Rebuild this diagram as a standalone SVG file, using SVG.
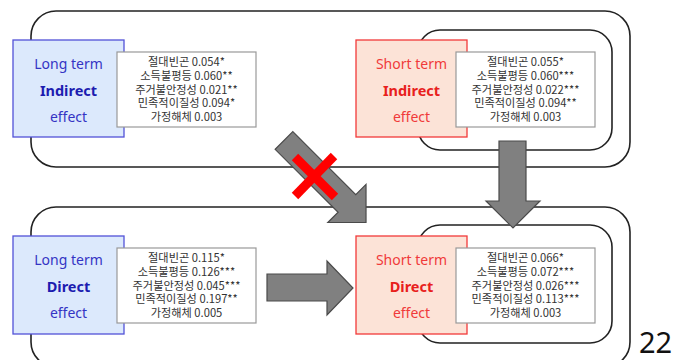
<svg xmlns="http://www.w3.org/2000/svg" width="679" height="360" viewBox="0 0 679 360">
<style>
.frame{fill:none;stroke:#222;stroke-width:1.6}
.lbox{fill:#dce9fc;stroke:#5252d8;stroke-width:1.3}
.sbox{fill:#fce3d7;stroke:#f23a3a;stroke-width:1.3}
.dbox{fill:#fff;stroke:#999;stroke-width:1.2}
.dt{font-family:"Noto Sans CJK KR","Noto Sans",sans-serif;font-size:11.2px;fill:#333;text-anchor:middle}
.lt{font-family:"Noto Sans","Noto Sans CJK KR",sans-serif;font-size:14px;text-anchor:middle}
.blue{fill:#3434c4}
.blueb{fill:#1c1cb0;font-weight:bold;font-size:14.5px}
.red{fill:#f03a3a}
.redb{fill:#e8201c;font-weight:bold;font-size:14.5px}
.arr{fill:#808080;stroke:#4a4a4a;stroke-width:1.2;stroke-linejoin:miter}
</style>
<rect width="679" height="360" fill="#fff"/>
<g id="frames">
<rect class="frame" x="31" y="11" width="599" height="156" rx="25"/>
<rect class="frame" x="418" y="30" width="194" height="120" rx="22"/>
<rect class="frame" x="31" y="207" width="599" height="160" rx="25"/>
<rect class="frame" x="418" y="225" width="194" height="118" rx="22"/>
</g>
<g id="long-indirect">
<rect class="lbox" x="13" y="40" width="111" height="97"/>
<text class="lt blue" x="68.5" y="69">Long term</text>
<text class="lt blueb" x="68.5" y="96">Indirect</text>
<text class="lt blue" x="68.5" y="122">effect</text>
<rect class="dbox" x="117" y="52" width="139" height="75"/>
<text class="dt" x="186.5" y="66">절대빈곤 0.054*</text>
<text class="dt" x="186.5" y="80">소득불평등 0.060**</text>
<text class="dt" x="186.5" y="93.5">주거불안정성 0.021**</text>
<text class="dt" x="186.5" y="107">민족적이질성 0.094*</text>
<text class="dt" x="186.5" y="121">가정해체 0.003</text>
</g>
<g id="short-indirect">
<rect class="sbox" x="356" y="40" width="111" height="97"/>
<text class="lt red" x="411.5" y="69">Short term</text>
<text class="lt redb" x="411.5" y="96">Indirect</text>
<text class="lt red" x="411.5" y="122">effect</text>
<rect class="dbox" x="456" y="52" width="139" height="75"/>
<text class="dt" x="525.5" y="66">절대빈곤 0.055*</text>
<text class="dt" x="525.5" y="80">소득불평등 0.060***</text>
<text class="dt" x="525.5" y="93.5">주거불안정성 0.022***</text>
<text class="dt" x="525.5" y="107">민족적이질성 0.094**</text>
<text class="dt" x="525.5" y="121">가정해체 0.003</text>
</g>
<g id="long-direct">
<rect class="lbox" x="13" y="236" width="111" height="98"/>
<text class="lt blue" x="68.5" y="265">Long term</text>
<text class="lt blueb" x="68.5" y="292">Direct</text>
<text class="lt blue" x="68.5" y="318">effect</text>
<rect class="dbox" x="117" y="248" width="139" height="75"/>
<text class="dt" x="186.5" y="262">절대빈곤 0.115*</text>
<text class="dt" x="186.5" y="276">소득불평등 0.126***</text>
<text class="dt" x="186.5" y="289.5">주거불안정성 0.045***</text>
<text class="dt" x="186.5" y="303">민족적이질성 0.197**</text>
<text class="dt" x="186.5" y="317">가정해체 0.005</text>
</g>
<g id="short-direct">
<rect class="sbox" x="356" y="236" width="111" height="98"/>
<text class="lt red" x="411.5" y="265">Short term</text>
<text class="lt redb" x="411.5" y="292">Direct</text>
<text class="lt red" x="411.5" y="318">effect</text>
<rect class="dbox" x="456" y="248" width="139" height="75"/>
<text class="dt" x="525.5" y="262">절대빈곤 0.066*</text>
<text class="dt" x="525.5" y="276">소득불평등 0.072***</text>
<text class="dt" x="525.5" y="289.5">주거불안정성 0.026***</text>
<text class="dt" x="525.5" y="303">민족적이질성 0.113***</text>
<text class="dt" x="525.5" y="317">가정해체 0.003</text>
</g>
<g id="connectors">
<polygon class="arr" transform="translate(284,140.5) rotate(45)" points="0,-12.5 89,-12.5 89,-27 116,0 89,27 89,12.5 0,12.5"/>
<polygon class="arr" points="499,141 526,141 526,201 540,201 513,228 486,201 499,201"/>
<polygon class="arr" points="267,274 327,274 327,261 353,288 327,315 327,301 267,301"/>
<g stroke="#ff0000" stroke-width="9">
<line x1="295" y1="157" x2="335" y2="197"/>
<line x1="334" y1="156" x2="295" y2="196"/>
</g>
</g>
<text x="639" y="353" font-family="Noto Sans, sans-serif" font-size="29" fill="#111">22</text>
</svg>
